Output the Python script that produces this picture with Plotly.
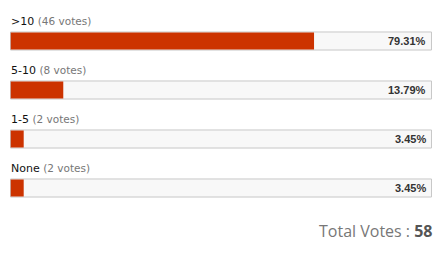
import plotly.graph_objects as go

categories = [">10", "5-10", "1-5", "None"]
votes = [46, 8, 2, 2]
percents = [79.31, 13.79, 3.45, 3.45]
total_votes = 58

W, H = 443, 258
fig = go.Figure()

fig.add_trace(go.Bar(
    x=percents, y=categories, orientation="h", width=0.35,
    marker=dict(color="#cc3300", line=dict(width=0)),
    hoverinfo="skip", showlegend=False,
))

shapes = []
annotations = []
for i, (cat, v, p) in enumerate(zip(categories, votes, percents)):
    shapes.append(dict(
        type="rect", xref="x domain", yref="y", x0=0, x1=1,
        y0=i - 0.184, y1=i + 0.184, layer="below",
        line=dict(color="#c8c8c8", width=1), fillcolor="#f8f8f8",
    ))
    esc = cat.replace(">", "&gt;")
    annotations.append(dict(
        xref="paper", yref="y", x=9 / W, y=cat, xanchor="left", yanchor="middle",
        yshift=20, showarrow=False,
        text=f"<span style='color:#111'>{esc}</span> "
             f"<span style='font-size:10.5px;color:#777'>({v} votes)</span>",
        font=dict(family="DejaVu Sans", size=11, color="#111"),
    ))
    annotations.append(dict(
        xref="paper", yref="y", x=428 / W, y=cat, xanchor="right", yanchor="middle",
        showarrow=False, text=f"<b>{p:.2f}%</b>",
        font=dict(family="Liberation Sans", size=11, color="#333"),
    ))

annotations.append(dict(
    xref="paper", yref="paper", x=435 / W, y=1 - 231 / H, xanchor="right", yanchor="middle",
    showarrow=False,
    text=f"Total Votes : <b style='color:#555'>{total_votes}</b>",
    font=dict(family="Open Sans", size=16, color="#777"),
))

fig.update_layout(
    width=W, height=H, margin=dict(l=0, r=0, t=0, b=0),
    paper_bgcolor="white", plot_bgcolor="white",
    xaxis=dict(domain=[10.5 / W, 431.5 / W], range=[0, 110], visible=False, fixedrange=True),
    yaxis=dict(domain=[0, 1], range=[(258 - 41) / 49, -41 / 49], visible=False,
               type="category", categoryorder="array", categoryarray=categories, fixedrange=True),
    shapes=shapes, annotations=annotations, showlegend=False,
)

fig.write_html("out.html", config={"displayModeBar": False})
